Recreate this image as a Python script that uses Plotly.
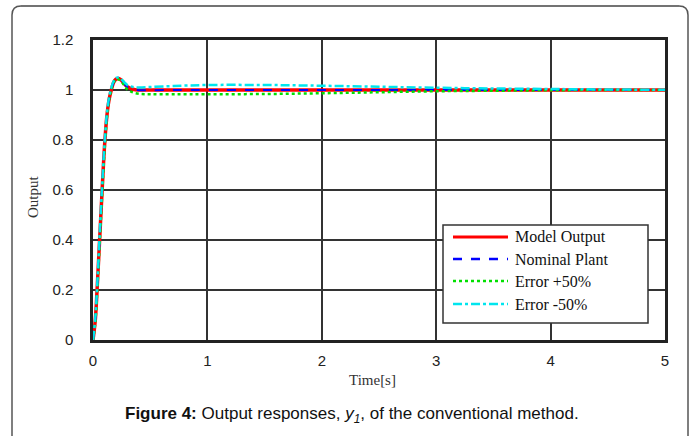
import plotly.graph_objects as go

# time samples (s)
t = [0, 0.02, 0.04, 0.06, 0.08, 0.10, 0.12, 0.14, 0.16, 0.18, 0.20, 0.22, 0.24,
     0.26, 0.28, 0.30, 0.35, 0.40, 0.50, 0.70, 1.0, 1.5, 2.0, 2.5, 3.0, 3.5, 4.0, 4.5, 5.0]

model_output = [0, 0.08, 0.24, 0.42, 0.60, 0.77, 0.89, 0.96, 1.00, 1.03, 1.043, 1.046, 1.042,
                1.033, 1.022, 1.013, 1.003, 1.000, 1.000, 1.000, 1.000, 1.000, 1.000, 1.000,
                1.000, 1.000, 1.000, 1.000, 1.000]
nominal_plant = [0, 0.08, 0.24, 0.42, 0.60, 0.77, 0.89, 0.96, 1.00, 1.03, 1.043, 1.046, 1.042,
                 1.033, 1.021, 1.012, 1.002, 0.999, 0.999, 1.000, 1.000, 1.000, 1.000, 1.000,
                 1.000, 1.000, 1.000, 1.000, 1.000]
error_plus50 = [0, 0.07, 0.22, 0.40, 0.58, 0.75, 0.88, 0.96, 1.00, 1.03, 1.042, 1.043, 1.037,
                1.027, 1.013, 1.002, 0.990, 0.985, 0.983, 0.983, 0.983, 0.984, 0.987, 0.991,
                0.995, 0.997, 0.999, 1.000, 1.000]
error_minus50 = [0, 0.09, 0.25, 0.44, 0.62, 0.78, 0.90, 0.97, 1.01, 1.035, 1.048, 1.050, 1.046,
                 1.038, 1.028, 1.020, 1.012, 1.010, 1.012, 1.016, 1.020, 1.020, 1.017, 1.013,
                 1.009, 1.006, 1.004, 1.002, 1.001]

series_names = ["Model Output", "Nominal Plant", "Error +50%", "Error -50%"]
series_values = [model_output, nominal_plant, error_plus50, error_minus50]
series_colors = ["#ff0000", "#0000ff", "#00e000", "#00e5ee"]
series_dash = ["solid", "dash", "dot", "dashdot"]
series_width = [3.5, 2, 2.5, 2.5]

x_ticks = [0, 1, 2, 3, 4, 5]
y_ticks = [0, 0.2, 0.4, 0.6, 0.8, 1.0, 1.2]
y_tick_labels = ["0", "0.2", "0.4", "0.6", "0.8", "1", "1.2"]

W, H = 696, 436
PL, PR, PT, PB = 93, 665, 40, 340
L, R, T, B = PL, W - PR, PT, H - PB
pw, ph = PR - PL, PB - PT

def px(xp):
    return (xp - PL) / pw

def py(yp):
    return (PB - yp) / ph

fig = go.Figure()
for name, vals, col, dsh, wid in zip(series_names, series_values, series_colors,
                                     series_dash, series_width):
    fig.add_trace(go.Scatter(x=t, y=vals, mode="lines", name=name, showlegend=False,
                             line=dict(color=col, width=wid, dash=dsh, shape="spline")))

# rounded frame around figure
x0, x1, y0, y1 = px(12), px(688), py(445), py(6)
rx, ry = 9 / pw, 9 / ph
frame_sides = (f"M {x0},{y0} L {x0},{y1-ry} Q {x0},{y1} {x0+rx},{y1} "
               f"M {x1-rx},{y1} Q {x1},{y1} {x1},{y1-ry} L {x1},{y0}")

shapes = [dict(type="path", path=frame_sides, xref="paper", yref="paper",
               line=dict(color="#555555", width=1.5), layer="above"),
          dict(type="line", x0=x0 + rx, x1=x1 - rx, y0=y1, y1=y1, xref="paper", yref="paper",
               line=dict(color="#444444", width=1.5), layer="above"),
          dict(type="rect", x0=px(443), x1=px(648), y0=py(323), y1=py(225),
               xref="paper", yref="paper", fillcolor="white",
               line=dict(color="#333333", width=1.5), layer="above")]
annotations = []
legend_rows = [237, 259, 281, 304]
for name, col, dsh, row in zip(series_names, series_colors, series_dash, legend_rows):
    shapes.append(dict(type="line", x0=px(453), x1=px(508), y0=py(row), y1=py(row),
                       xref="paper", yref="paper", layer="above",
                       line=dict(color=col, width=3 if dsh == "solid" else 2.5, dash=dsh)))
    annotations.append(dict(text=name, x=px(513), y=py(row), xref="paper", yref="paper",
                            xanchor="left", yanchor="middle", showarrow=False,
                            font=dict(family="Liberation Serif", size=16, color="#111111")))

annotations += [
    dict(text="Time[s]", x=px(372), y=py(380), xref="paper", yref="paper",
         xanchor="center", yanchor="middle",
         showarrow=False, font=dict(family="Liberation Serif", size=15, color="#333333")),
    dict(text="Output", x=px(33), y=py(197), xref="paper", yref="paper", textangle=-90,
         xanchor="center", yanchor="middle",
         showarrow=False, font=dict(family="Liberation Serif", size=15, color="#333333")),
    dict(text="<b>Figure 4:</b> Output responses, <i>y</i><sub><i>1</i></sub>, of the conventional method.",
         x=px(352), y=py(415), xref="paper", yref="paper", showarrow=False,
         xanchor="center", yanchor="middle",
         font=dict(family="Liberation Sans", size=17, color="#111111")),
]

fig.update_layout(
    width=W, height=H,
    margin=dict(l=L, r=R, t=T, b=B),
    paper_bgcolor="white", plot_bgcolor="white",
    showlegend=False,
    xaxis=dict(range=[0, 5], tickvals=x_ticks, showgrid=True, gridcolor="#333333",
               gridwidth=1.5, showline=True, linecolor="#222222", linewidth=2.5,
               mirror=True, zeroline=False, ticks="", ticklabelstandoff=5,
               tickfont=dict(family="Liberation Sans", size=15, color="#222222")),
    yaxis=dict(range=[0, 1.2], tickvals=y_ticks, ticktext=y_tick_labels, showgrid=True,
               gridcolor="#333333", gridwidth=1.5, showline=True, linecolor="#222222",
               linewidth=2.5, mirror=True, zeroline=False, ticks="", ticklabelstandoff=14,
               tickfont=dict(family="Liberation Sans", size=15, color="#222222")),
    shapes=shapes,
    annotations=annotations,
)

fig.write_html("out.html", config={"displayModeBar": False},
               post_script="document.body.style.margin='0';document.body.style.overflow='hidden';")
